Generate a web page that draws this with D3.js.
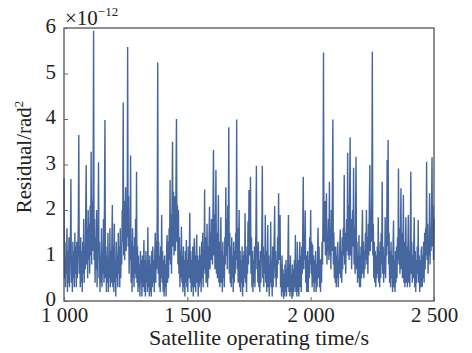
<!DOCTYPE html>
<html><head><meta charset="utf-8">
<script src="https://cdn.jsdelivr.net/npm/d3@7"></script>
<style>body{margin:0;background:#fff}svg{display:block}</style>
</head><body>
<svg id="chart" width="472" height="353"></svg>
<script>
const xTicks = [1000, 1500, 2000, 2500];
const xTickLabels = ["1 000", "1 500", "2 000", "2 500"];
const yTicks = [0, 1, 2, 3, 4, 5, 6];
const yTickLabels = ["0", "1", "2", "3", "4", "5", "6"];
const xTitle = "Satellite operating time/s";
const yTitle = "Residual/rad";
const timeStart = 1000, timeStep = 2;
// residual values in units of 1e-12 rad^2, one every 2 s from 1000 s to 2500 s (25 per row = 50 s)
const residual = [
2.7,0.5,1.3,0.3,1.0,0.6,1.6,0.2,1.1,0.4,1.4,0.3,0.9,1.2,2.68,0.4,1.0,0.2,1.3,0.5,1.1,0.3,1.5,0.6,1.2,
0.3,1.3,0.5,1.0,1.7,3.65,0.6,1.2,0.3,1.4,0.4,1.1,0.2,1.3,0.6,1.8,0.4,1.2,0.7,1.9,2.99,0.8,1.6,0.5,2.0,
0.9,1.7,0.6,2.1,1.0,3.28,0.8,2.2,1.1,2.6,5.94,0.9,1.8,0.4,1.4,0.7,2.0,0.3,1.2,1.5,3.05,0.5,1.3,0.2,1.0,
0.4,1.6,0.3,1.1,0.6,1.8,0.4,2.0,3.98,0.5,1.2,0.2,1.0,0.4,1.5,0.2,0.9,0.5,1.6,0.3,1.1,0.4,1.3,2.11,0.3,
1.2,0.2,1.7,0.4,0.9,0.1,1.3,0.5,1.0,0.3,1.5,0.6,1.2,0.3,1.6,0.5,1.1,0.8,2.0,1.3,4.36,1.0,2.2,0.9,1.8,
2.5,1.1,2.0,1.4,5.58,1.2,2.3,0.6,1.5,0.9,3.2,0.4,1.3,0.2,1.6,0.5,1.2,0.3,1.4,0.6,1.8,0.5,2.84,0.4,1.2,
0.2,1.0,0.3,0.8,0.1,1.1,0.4,0.9,0.1,1.0,0.3,0.7,1.34,0.2,0.9,0.1,1.1,0.4,0.8,0.2,1.62,0.3,0.9,0.1,1.0,
0.2,0.8,0.1,1.1,0.3,1.2,0.4,0.9,0.2,1.0,1.5,0.4,1.3,0.7,2.0,5.24,0.6,1.3,0.3,1.0,0.2,1.2,0.5,1.89,0.4,
1.1,0.2,0.9,0.1,1.0,0.3,0.8,0.1,1.1,1.45,0.4,1.3,0.5,1.6,0.9,2.66,0.8,1.9,0.6,2.2,3.5,1.2,2.4,1.0,1.9,
2.3,1.1,2.6,4.0,1.3,2.1,0.8,2.0,0.6,1.4,0.3,1.1,0.5,1.63,0.4,1.0,0.2,1.2,0.3,0.9,0.1,1.1,0.4,1.34,0.3,
0.9,0.2,1.2,0.5,1.0,1.94,0.4,1.1,0.2,0.9,0.3,1.2,0.1,0.8,1.38,0.3,1.0,0.2,1.1,1.46,0.4,1.0,0.1,0.9,0.3,
1.2,0.4,1.0,0.2,1.3,0.5,1.5,0.3,1.1,0.7,2.45,0.6,1.4,0.4,1.0,1.7,0.3,1.2,0.5,1.4,2.07,0.7,1.5,0.9,1.8,
1.6,0.8,2.0,3.32,1.0,1.9,0.7,1.6,2.88,0.6,1.5,0.5,1.2,2.33,0.4,1.3,0.3,1.0,1.84,0.4,1.1,0.2,1.3,0.5,1.0,
0.3,1.4,0.8,2.5,1.0,1.8,0.7,2.1,1.2,3.82,0.6,1.5,0.4,1.2,0.3,1.4,0.5,1.0,0.2,1.3,0.4,1.1,0.6,1.5,0.9,
3.99,0.7,1.6,0.4,1.2,2.0,0.3,1.1,0.2,0.9,0.4,1.2,0.1,1.0,0.3,1.1,0.5,1.93,0.4,1.2,0.2,1.0,0.6,1.75,0.8,
2.44,1.0,1.8,2.73,0.6,1.4,0.3,1.1,0.2,0.9,0.4,1.2,0.3,1.0,1.5,2.97,0.7,1.2,0.4,1.3,0.3,0.9,0.2,1.1,0.4,
1.0,1.4,2.97,0.5,1.2,0.3,1.0,0.6,1.89,0.4,1.1,0.2,0.9,1.67,0.3,1.0,0.1,0.8,0.4,1.74,0.3,0.9,0.1,1.2,0.3,
0.8,1.3,2.09,0.5,1.1,0.3,0.9,0.5,1.4,0.8,2.37,0.9,1.5,1.89,0.3,0.8,0.1,1.0,0.2,0.7,0.05,0.6,0.1,0.8,0.2,
0.9,0.1,0.7,0.3,1.1,1.89,0.2,0.8,0.1,1.0,0.2,0.6,0.05,0.8,0.1,0.7,0.2,0.9,0.3,1.45,0.2,0.8,0.1,1.3,0.2,
0.9,0.1,0.7,1.3,0.3,1.0,0.2,1.2,0.6,1.6,2.73,0.7,1.4,0.9,1.99,0.4,1.0,0.2,0.8,1.1,0.2,0.9,0.5,1.4,0.8,
2.0,0.6,1.3,0.3,1.24,0.4,1.0,0.2,0.9,0.4,1.1,0.2,0.8,0.3,1.0,1.61,0.5,1.2,0.3,0.9,0.2,0.93,0.4,1.3,0.8,
1.9,5.46,1.3,2.1,2.2,1.0,1.7,2.37,0.8,1.5,1.1,1.8,0.9,2.62,1.0,1.6,0.7,2.0,1.1,2.3,3.99,0.8,1.5,0.5,1.2,
0.4,1.2,0.3,1.0,0.5,1.3,0.3,0.9,0.6,1.2,1.57,0.5,1.1,0.4,1.4,0.7,1.6,1.0,2.77,0.8,1.5,0.6,1.3,1.8,1.1,
3.26,1.0,2.1,0.9,2.4,3.6,1.0,1.8,0.7,1.4,2.0,1.2,2.93,0.8,1.6,0.6,1.9,3.17,0.7,1.3,0.4,1.0,0.5,1.45,0.3,
1.0,0.3,1.2,0.5,1.4,2.0,0.6,1.3,0.5,1.1,0.7,1.5,0.9,2.0,0.8,1.4,0.6,1.7,1.0,2.2,2.99,1.1,2.0,1.3,2.4,
5.48,1.0,1.7,0.5,1.3,0.4,1.1,0.3,1.0,0.5,1.2,0.6,1.84,0.4,1.1,0.3,1.3,0.5,1.5,0.8,2.62,0.6,1.2,0.4,1.0,
0.6,1.84,0.5,1.4,1.0,3.1,1.2,3.54,0.8,1.5,0.4,1.1,0.3,1.3,0.5,1.0,0.2,1.2,1.77,0.3,0.9,0.2,1.1,0.4,1.2,
0.5,1.4,0.9,2.91,0.8,1.6,0.6,1.3,2.48,0.7,1.5,0.5,1.2,2.33,0.4,1.3,0.3,1.0,1.84,0.4,1.2,0.3,1.1,1.89,0.4,
1.1,0.3,1.4,2.84,0.6,1.3,0.4,1.0,0.5,1.2,1.84,0.3,1.1,0.2,0.9,0.4,1.2,0.6,1.78,0.4,1.0,0.2,0.9,0.3,1.1,
1.2,0.3,1.0,0.5,1.3,0.4,1.5,0.7,1.6,1.0,3.06,0.9,1.7,0.6,1.4,1.0,2.37,0.8,1.6,1.1,2.0,3.16,1.2,2.1,0.9,
1.8
];

const data = residual.map((v, i) => ({ t: timeStart + i * timeStep, v }));

const svg = d3.select("#chart");
const L = 64, R = 434, T = 28, B = 301;
const x = d3.scaleLinear().domain([1000, 2500]).range([L, R]);
const y = d3.scaleLinear().domain([0, 6]).range([B, T]);
const font = "'Liberation Serif','Times New Roman',serif";
const ink = "#222";

// data line
svg.append("path")
  .datum(data)
  .attr("fill", "none")
  .attr("stroke", "#45669f")
  .attr("stroke-width", 1.4)
  .attr("d", d3.line().x(d => x(d.t)).y(d => y(d.v)));

// frame
svg.append("rect")
  .attr("x", L).attr("y", T).attr("width", R - L).attr("height", B - T)
  .attr("fill", "none").attr("stroke", "#444").attr("stroke-width", 1.2);

// y axis (ticks inward)
const yAxis = d3.axisLeft(y).tickValues(yTicks).tickSize(-4)
  .tickFormat((d, i) => yTickLabels[i]).tickPadding(8);
const gy = svg.append("g").attr("transform", `translate(${L},0)`).call(yAxis);
gy.select(".domain").remove();
gy.selectAll("line").attr("stroke", "#666");
gy.selectAll("text").attr("y", -2).attr("font-family", font).attr("font-size", 21).attr("fill", ink);

// x axis (ticks inward)
const xAxis = d3.axisBottom(x).tickValues(xTicks).tickSize(-4)
  .tickFormat((d, i) => xTickLabels[i]).tickPadding(6);
const gx = svg.append("g").attr("transform", `translate(0,${B})`).call(xAxis);
gx.select(".domain").remove();
gx.selectAll("line").attr("stroke", "#666");
gx.selectAll("text").attr("font-family", font).attr("font-size", 21).attr("fill", ink);

// axis titles
svg.append("text")
  .attr("x", (L + R) / 2 + 10).attr("y", 345)
  .attr("text-anchor", "middle")
  .attr("font-family", font).attr("font-size", 22).attr("fill", ink)
  .text(xTitle);

const yt = svg.append("text")
  .attr("transform", "translate(31,157) rotate(-90)")
  .attr("text-anchor", "middle")
  .attr("font-family", font).attr("font-size", 21).attr("fill", ink);
yt.append("tspan").text(yTitle);
yt.append("tspan").attr("font-size", 13).attr("dy", -8).text("2");

// exponent label
const ex = svg.append("text")
  .attr("x", 65).attr("y", 25)
  .attr("font-family", font).attr("font-size", 21).attr("fill", ink);
ex.append("tspan").text("×10");
ex.append("tspan").attr("font-size", 13).attr("dy", -9).text("−12");
</script>
</body></html>
